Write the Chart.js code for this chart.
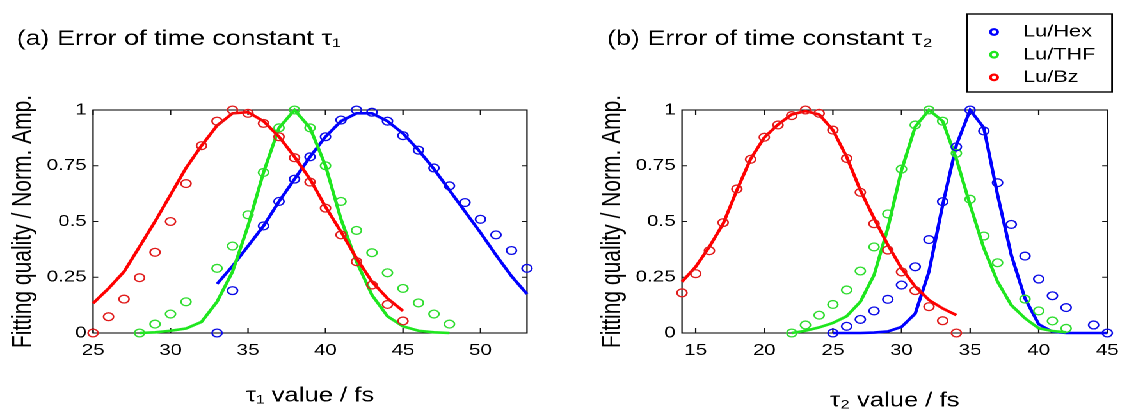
<!DOCTYPE html>
<html>
<head>
<meta charset="utf-8">
<script src="https://cdn.jsdelivr.net/npm/chart.js@4.4.1/dist/chart.umd.min.js"></script>
<style>
  html, body { margin:0; padding:0; background:#fff; overflow:hidden; }
  #wrap { position:absolute; left:0; top:0; width:882px; height:414px; transform:scaleX(1.28); transform-origin:0 0; }
  #wrap canvas { position:absolute; top:0; width:441px; height:414px; }
</style>
</head>
<body>
<div id="wrap">
  <canvas id="chartA" width="441" height="414" style="left:0;width:441px;height:414px"></canvas>
  <canvas id="chartB" width="441" height="414" style="left:441px;width:441px;height:414px"></canvas>
</div>
<script>
// ---------- DATA ----------
const seriesNames = ['Lu/Hex', 'Lu/THF', 'Lu/Bz'];

// Panel (a): tau1
const a_hexPtsX = [33,34,36,37,38,39,40,41,42,43,44,45,46,47,48,49,50,51,52,53];
const a_hexPtsY = [0,0.19,0.48,0.59,0.69,0.79,0.88,0.955,1.0,0.99,0.95,0.885,0.82,0.74,0.66,0.585,0.51,0.44,0.37,0.29];
const a_hexFitX = [33,34,35,36,37,38,39,40,41,42,43,44,45,46,47,48,49,50,51,52,53];
const a_hexFitY = [0.22,0.30,0.39,0.48,0.59,0.69,0.79,0.88,0.95,0.985,0.985,0.95,0.895,0.82,0.735,0.64,0.545,0.45,0.35,0.255,0.175];

const a_thfPtsX = [28,29,30,31,33,34,35,36,37,38,39,40,41,42,43,44,45,46,47,48];
const a_thfPtsY = [0,0.04,0.085,0.14,0.29,0.39,0.53,0.72,0.92,1.0,0.92,0.75,0.59,0.46,0.36,0.27,0.2,0.135,0.085,0.04];
const a_thfFitX = [28,29,30,31,32,33,34,35,36,37,38,39,40,41,42,43,44,45,46,47,48];
const a_thfFitY = [0,0.003,0.01,0.02,0.05,0.14,0.275,0.48,0.72,0.92,1.0,0.92,0.75,0.51,0.32,0.17,0.075,0.03,0.01,0.003,0];

const a_bzPtsX = [25,26,27,28,29,30,31,32,33,34,35,36,37,38,39,40,41,42,43,44,45];
const a_bzPtsY = [0,0.073,0.152,0.248,0.362,0.50,0.67,0.84,0.95,1.0,0.985,0.94,0.88,0.786,0.677,0.56,0.44,0.32,0.215,0.128,0.054];
const a_bzFitX = [25,26,27,28,29,30,31,32,33,34,35,36,37,38,39,40,41,42,43,44,45];
const a_bzFitY = [0.133,0.20,0.275,0.387,0.50,0.62,0.74,0.84,0.93,0.985,0.99,0.95,0.88,0.79,0.69,0.566,0.454,0.335,0.23,0.155,0.099];

// Panel (b): tau2
const b_hexPtsX = [25,26,27,28,29,30,31,32,33,34,35,36,37,38,39,40,41,42,44,45];
const b_hexPtsY = [0,0.03,0.061,0.099,0.151,0.215,0.297,0.419,0.589,0.835,1.0,0.906,0.674,0.487,0.345,0.242,0.167,0.114,0.036,0];
const b_hexFitX = [25,26,27,28,29,30,31,32,33,34,35,36,37,38,39,40,41,42,43,44,45];
const b_hexFitY = [0,0,0,0.002,0.007,0.027,0.087,0.275,0.574,0.843,1.0,0.92,0.62,0.35,0.155,0.039,0.006,0,0,0,0];

const b_thfPtsX = [22,23,24,25,26,27,28,29,30,31,32,33,34,35,36,37,39,40,41,42];
const b_thfPtsY = [0,0.036,0.08,0.128,0.193,0.278,0.386,0.534,0.735,0.933,1.0,0.95,0.806,0.60,0.435,0.315,0.152,0.099,0.054,0.021];
const b_thfFitX = [22,23,24,25,26,27,28,29,30,31,32,33,34,35,36,37,38,39,40,41,42];
const b_thfFitY = [0,0.01,0.025,0.045,0.075,0.14,0.26,0.47,0.73,0.925,1.0,0.95,0.78,0.574,0.38,0.23,0.125,0.066,0.021,0.009,0.003];

const b_bzPtsX = [14,15,16,17,18,19,20,21,22,23,24,25,26,27,28,29,30,31,32,33,34];
const b_bzPtsY = [0.18,0.266,0.369,0.495,0.646,0.779,0.878,0.933,0.975,1.0,0.985,0.91,0.783,0.631,0.49,0.372,0.274,0.19,0.118,0.055,0];
const b_bzFitX = [14,15,16,17,18,19,20,21,22,23,24,25,26,27,28,29,30,31,32,33,34];
const b_bzFitY = [0.23,0.297,0.387,0.49,0.64,0.78,0.877,0.935,0.98,0.995,0.98,0.91,0.79,0.64,0.514,0.395,0.29,0.208,0.148,0.11,0.08];

// Tick labels
const xTicksA = [25,30,35,40,45,50];
const xTicksB = [15,20,25,30,35,40,45];
const yTicks = [0,0.25,0.5,0.75,1];

// ---------- STYLE ----------
const FONT = '"Liberation Sans", Arial, Helvetica, sans-serif';
const ptColors = ['#0a0ae6', '#2edc2e', '#e01a1a'];
const lineColors = ['#0000ff', '#1ee61e', '#ff0000'];

function pts(xs, ys) { return xs.map((x, i) => ({x: x, y: ys[i]})); }

function scatterDs(i, xs, ys) {
  return { label: seriesNames[i], data: pts(xs, ys), showLine: false, legendItem: true,
    borderColor: ptColors[i], backgroundColor: 'rgba(0,0,0,0)', pointRadius: 3.9,
    pointBorderWidth: 1.3, pointStyle: 'circle', clip: false };
}
function fitDs(i, xs, ys) {
  return { label: seriesNames[i] + ' fit', data: pts(xs, ys), showLine: true,
    borderColor: lineColors[i], borderWidth: 2.6, pointRadius: 0, tension: 0, clip: false, fill: false };
}

const framePlugin = {
  id: 'frame',
  beforeDatasetsDraw(chart) {
    const {ctx, chartArea: {left, right, top, bottom}, scales: {x, y}} = chart;
    ctx.save();
    ctx.strokeStyle = '#111';
    ctx.lineWidth = 1.1;
    ctx.strokeRect(left, top, right - left, bottom - top);
    ctx.beginPath();
    x.ticks.forEach(t => {
      const px = x.getPixelForValue(t.value);
      ctx.moveTo(px, bottom); ctx.lineTo(px, bottom - 5);
      ctx.moveTo(px, top); ctx.lineTo(px, top + 5);
    });
    y.ticks.forEach(t => {
      const py = y.getPixelForValue(t.value);
      ctx.moveTo(left, py); ctx.lineTo(left + 4, py);
      ctx.moveTo(right, py); ctx.lineTo(right - 4, py);
    });
    ctx.stroke();
    ctx.restore();
  }
};

const legendBoxPlugin = {
  id: 'legendBox',
  afterDraw(chart, args, o) {
    if (!o || !o.show) return;
    const ctx = chart.ctx;
    ctx.save();
    ctx.fillStyle = '#fff';
    ctx.fillRect(o.x, o.y, o.w, o.h);
    ctx.strokeStyle = '#000';
    ctx.lineWidth = 1.4;
    ctx.strokeRect(o.x, o.y, o.w, o.h);
    const items = chart.data.datasets.filter(d => d.legendItem);
    ctx.font = o.fontSize + 'px ' + FONT;
    ctx.textBaseline = 'middle';
    ctx.textAlign = 'left';
    items.forEach((d, i) => {
      const cy = o.y + o.firstRow + i * o.rowGap;
      ctx.beginPath();
      ctx.arc(o.markerX, cy, 2.8, 0, Math.PI * 2);
      ctx.lineWidth = 2.2;
      ctx.strokeStyle = lineColors[seriesNames.indexOf(d.label)];
      ctx.stroke();
      ctx.fillStyle = '#000';
      ctx.fillText(d.label, o.textX, cy);
    });
    ctx.restore();
  }
};

function makeChart(id, cfg) {
  return new Chart(document.getElementById(id), {
    type: 'line',
    data: { datasets: cfg.datasets },
    plugins: [framePlugin, legendBoxPlugin],
    options: {
      responsive: false,
      animation: false,
      devicePixelRatio: 2,
      layout: { padding: { left: cfg.padLeft, right: cfg.padRight, top: 0, bottom: 0 } },
      plugins: {
        legend: { display: false },
        tooltip: { enabled: false },
        title: { display: true, text: cfg.title, align: 'start', color: '#000',
          font: { family: FONT, size: 21, weight: 'normal' }, padding: { top: 26.4, bottom: 58.4 } },
        legendBox: cfg.legend
      },
      scales: {
        x: {
          type: 'linear', min: cfg.xMin, max: cfg.xMax,
          afterBuildTicks: s => { s.ticks = cfg.xTicks.map(v => ({value: v})); },
          afterFit: s => { s.height = 81; },
          grid: { display: false, drawTicks: false }, border: { display: false },
          ticks: { color: '#000', padding: 8, maxRotation: 0, autoSkip: false,
            font: { family: FONT, size: 16 }, callback: v => String(v) },
          title: { display: true, text: cfg.xTitle, color: '#000',
            font: { family: FONT, size: 20 }, padding: { top: 0, bottom: cfg.xTitlePad } }
        },
        y: {
          min: 0, max: 1,
          afterBuildTicks: s => { s.ticks = yTicks.map(v => ({value: v})); },
          afterFit: s => { s.width = cfg.yWidth; },
          grid: { display: false, drawTicks: false }, border: { display: false },
          ticks: { color: '#000', padding: 5, font: { family: FONT, size: 16 }, callback: v => String(v) },
          title: { display: true, text: 'Fitting quality / Norm. Amp.', color: '#000',
            font: { family: FONT, size: 21 }, padding: { top: cfg.yTitlePad, bottom: 0 } }
        }
      }
    }
  });
}

makeChart('chartA', {
  title: '(a) Error of time constant τ₁',
  xTitle: 'τ₁ value / fs',
  xMin: 25, xMax: 53, xTicks: xTicksA,
  padLeft: 13, padRight: 29.3, yWidth: 59.7, yTitlePad: -7.6, xTitlePad: 6,
  legend: { show: false },
  datasets: [
    scatterDs(0, a_hexPtsX, a_hexPtsY),
    scatterDs(1, a_thfPtsX, a_thfPtsY),
    scatterDs(2, a_bzPtsX, a_bzPtsY),
    fitDs(2, a_bzFitX, a_bzFitY),
    fitDs(1, a_thfFitX, a_thfFitY),
    fitDs(0, a_hexFitX, a_hexFitY)
  ]
});

makeChart('chartB', {
  title: '(b) Error of time constant τ₂',
  xTitle: 'τ₂ value / fs',
  xMin: 14, xMax: 45, xTicks: xTicksB,
  padLeft: 33.2, padRight: 10.9, yWidth: 58.6, yTitlePad: -7.9, xTitlePad: 1,
  legend: { show: true, x: 314.5, y: 14, w: 113.3, h: 78, markerX: 335.6, textX: 358.2,
            firstRow: 18, rowGap: 22.7, fontSize: 17 },
  datasets: [
    scatterDs(0, b_hexPtsX, b_hexPtsY),
    scatterDs(1, b_thfPtsX, b_thfPtsY),
    scatterDs(2, b_bzPtsX, b_bzPtsY),
    fitDs(2, b_bzFitX, b_bzFitY),
    fitDs(1, b_thfFitX, b_thfFitY),
    fitDs(0, b_hexFitX, b_hexFitY)
  ]
});
</script>
</body>
</html>
